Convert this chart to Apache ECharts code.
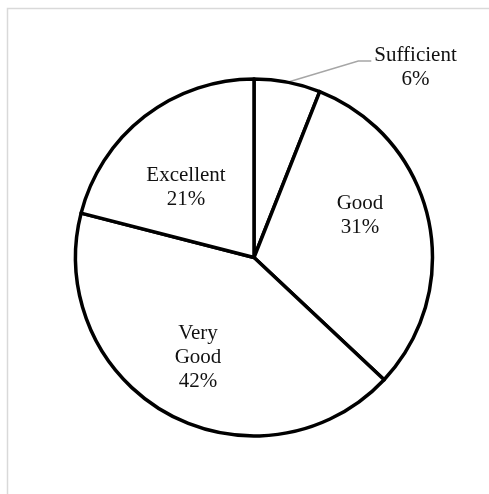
<!DOCTYPE html>
<html>
<head>
<meta charset="utf-8">
<script src="https://cdn.jsdelivr.net/npm/echarts@6/dist/echarts.min.js"></script>
<style>
html, body { margin: 0; padding: 0; background: #ffffff; }
#chart { width: 489px; height: 494px; }
</style>
</head>
<body>
<div id="chart"></div>
<script>
// ---- data ----
const categories = ['Sufficient', 'Good', 'Very Good', 'Excellent'];
const values = [6, 31, 42, 21];

// ---- layout / style ----
const CX = 254, CY = 257.5, R = 178.5;
// label block centres, relative to pie centre (px)
const labelOffsets = [[161.5, -190.5], [106, -42], [-56, 99.5], [-68, -70]];
const FONT = { fontFamily: 'Liberation Serif, Times New Roman, serif', fontSize: 21, lineHeight: 24, color: '#111111' };

const total = values.reduce((a, b) => a + b, 0);

const chart = echarts.init(document.getElementById('chart'), null, { renderer: 'canvas' });

const seriesData = categories.map((name, i) => ({
  name: name,
  value: values[i],
  label: { position: i === 0 ? 'outside' : 'inside' },
  labelLine: { show: i === 0 }
}));

chart.setOption({
  animation: false,
  backgroundColor: '#ffffff',
  graphic: [{
    type: 'rect',
    silent: true,
    shape: { x: 7.5, y: 8.5, width: 700, height: 700 },
    style: { fill: 'none', stroke: '#d9d9d9', lineWidth: 1.5 }
  }],
  series: [{
    type: 'pie',
    center: [CX, CY],
    radius: R,
    startAngle: 90,
    clockwise: true,
    avoidLabelOverlap: false,
    silent: true,
    emphasis: { disabled: true },
    itemStyle: { color: '#ffffff', borderColor: '#000000', borderWidth: 3.5, borderJoin: 'round' },
    label: Object.assign({
      show: true,
      align: 'center',
      formatter: p => p.name.replace(' ', '\n') + '\n' + Math.round(p.percent) + '%'
    }, FONT),
    labelLine: {
      show: false,
      lineStyle: { color: '#a6a6a6', width: 1.5 }
    },
    labelLayout: function (p) {
      const i = p.dataIndex;
      const x = CX + labelOffsets[i][0];
      const y = CY + labelOffsets[i][1];
      const res = { x: x, y: y, align: 'center', verticalAlign: 'middle' };
      if (i === 0) {
        let cum = 0;
        for (let k = 0; k < i; k++) cum += values[k];
        const ang = (cum + values[i] / 2) / total * Math.PI * 2;
        const p0 = [CX + R * Math.sin(ang), CY - R * Math.cos(ang)];
        const endX = x - p.labelRect.width / 2 - 3;
        const endY = y - 6;
        res.labelLinePoints = [p0, [endX - 13, endY], [endX, endY]];
      }
      return res;
    },
    data: seriesData
  }]
});
</script>
</body>
</html>
